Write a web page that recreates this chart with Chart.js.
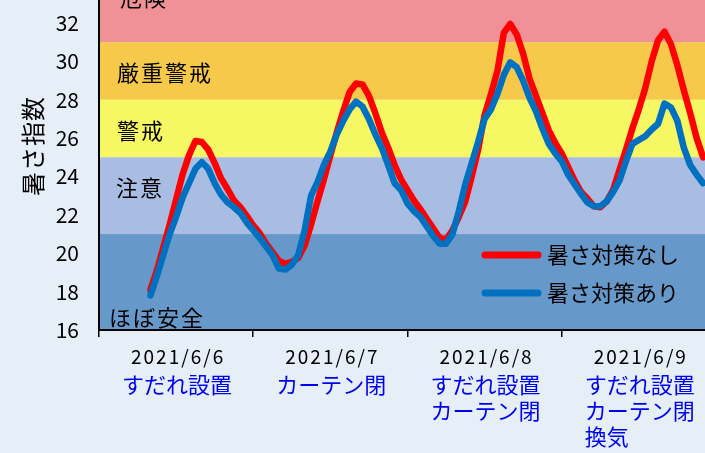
<!DOCTYPE html>
<html>
<head>
<meta charset="utf-8">
<script src="https://cdn.jsdelivr.net/npm/chart.js@4/dist/chart.umd.min.js"></script>
<style>
  html, body { margin: 0; padding: 0; background: #E6EEF7; }
  #wrap { width: 705px; height: 453px; overflow: hidden; }
</style>
</head>
<body>
<div id="wrap"><canvas id="c" width="705" height="453"></canvas></div>
<script>
// ---- data ----
const hours = [8,9,10,11,12,13,14,15,16,17,18,19,20,21,22,23,24,25,26,27,28,29,30,31,32,33,34,35,36,37,38,39,40,41,42,43,44,45,46,47,48,49,50,51,52,53,54,55,56,57,58,59,60,61,62,63,64,65,66,67,68,69,70,71,72,73,74,75,76,77,78,79,80,81,82,83,84,85,86,87,88,89,90,91,92,93,94];
const noMeasures = [18.1,19.1,20.3,21.5,22.8,24.1,25.1,25.85,25.8,25.4,24.7,23.9,23.35,22.75,22.4,21.95,21.45,21.05,20.5,20.05,19.6,19.45,19.55,19.75,20.4,21.5,22.7,23.85,25.1,26.3,27.4,28.4,28.85,28.8,28.2,27.3,26.3,25.5,24.6,23.85,23.3,22.75,22.3,21.8,21.3,20.8,20.7,21.2,21.9,22.7,24.0,25.4,27.2,28.3,29.5,31.5,31.95,31.4,30.4,29.1,28.2,27.3,26.4,25.75,25.2,24.5,23.8,23.2,22.85,22.45,22.4,22.7,23.3,24.35,25.4,26.5,27.5,28.6,30.0,31.1,31.55,30.9,29.8,28.5,27.3,26.0,25.0];
const withMeasures = [17.8,18.8,19.9,21.0,21.9,22.9,23.65,24.4,24.75,24.4,23.65,23.05,22.65,22.4,22.1,21.6,21.2,20.8,20.35,19.9,19.2,19.15,19.4,19.9,21.2,23.0,23.7,24.6,25.3,26.2,26.9,27.5,27.9,27.65,27.0,26.2,25.5,24.6,23.65,23.3,22.6,22.2,21.9,21.4,20.9,20.5,20.5,21.0,22.2,23.6,24.7,25.8,27.0,27.5,28.3,29.3,29.95,29.7,29.0,28.1,27.4,26.5,25.7,25.2,24.8,24.1,23.6,23.1,22.65,22.45,22.45,22.7,23.2,23.8,24.8,25.7,25.9,26.1,26.45,26.75,27.8,27.6,26.9,25.5,24.6,24.1,23.65];
const seriesNames = ['暑さ対策なし', '暑さ対策あり'];
const dayLabels = ['2021/6/6', '2021/6/7', '2021/6/8', '2021/6/9'];
const dayActions = [['すだれ設置'], ['カーテン閉'], ['すだれ設置', 'カーテン閉'], ['すだれ設置', 'カーテン閉', '換気']];
const dayStarts = [0, 24, 48, 72];
const yTicks = [16, 18, 20, 22, 24, 26, 28, 30, 32];
const bandNames = ['危険', '厳重警戒', '警戒', '注意', 'ほぼ安全'];
const bandFrom = [31, 28, 25, 21, 16];
const bandTo = [40, 31, 28, 25, 21];
const yTitle = '暑さ指数';

// ---- styles ----
const FONT = "'Noto Sans CJK JP', 'Noto Sans', sans-serif";
const bandColors = ['#F09097', '#F6C94B', '#F5F763', '#A9BDE3', '#6699CA'];
const bandLabelAt = [33.3, 29.4, 26.4, 23.4, 16.65];
const bandLabelX = [120, 117, 117, 116, 109];
const red = '#FF0000', blue = '#0070C0';

const bgPlugin = {
  id: 'bands',
  beforeDraw(chart) {
    const {ctx, chartArea: a, scales: {y}} = chart;
    ctx.save();
    ctx.beginPath(); ctx.rect(a.left, a.top, a.right - a.left, a.bottom - a.top); ctx.clip();
    bandNames.forEach((n, i) => {
      const t = y.getPixelForValue(bandTo[i]), b = y.getPixelForValue(bandFrom[i]);
      ctx.fillStyle = bandColors[i];
      ctx.fillRect(a.left, t, a.right - a.left, b - t);
    });
    ctx.fillStyle = '#000';
    ctx.font = '22px ' + FONT;
    ctx.textBaseline = 'middle';
    ctx.textAlign = 'left';
    try { ctx.letterSpacing = '2px'; } catch (e) {}
    bandNames.forEach((n, i) => {
      ctx.fillText(n, bandLabelX[i], y.getPixelForValue(bandLabelAt[i]));
    });
    ctx.restore();
  },
  afterDraw(chart) {
    const {ctx, scales: {x, y}} = chart;
    ctx.save();
    ctx.fillStyle = '#000';
    ctx.font = '24px ' + FONT;
    ctx.textAlign = 'center';
    ctx.textBaseline = 'middle';
    ctx.translate(33, 146);
    ctx.rotate(-Math.PI / 2);
    try { ctx.letterSpacing = '1px'; } catch (e) {}
    ctx.fillText(yTitle, 0, 0);
    ctx.restore();

    ctx.save();
    ctx.textAlign = 'center';
    ctx.textBaseline = 'middle';
    dayLabels.forEach((d, i) => {
      const cx = x.getPixelForValue(dayStarts[i] + 12);
      ctx.fillStyle = '#000';
      ctx.font = '19px ' + FONT;
      try { ctx.letterSpacing = '2px'; } catch (e) {}
      ctx.fillText(d, cx + 2, 357);
      ctx.fillStyle = '#0000F0';
      ctx.font = '22px ' + FONT;
      try { ctx.letterSpacing = '0px'; } catch (e) {}
      dayActions[i].forEach((t, j) => {
        if (j === 0 || dayActions[i].length === 1) {
          ctx.fillText(t, cx + 1, 385 + j * 26);
        } else {
          ctx.textAlign = 'left';
          const w0 = ctx.measureText(dayActions[i][0]).width;
          ctx.fillText(t, cx + 1 - w0 / 2, 385 + j * 26);
          ctx.textAlign = 'center';
        }
      });
    });
    ctx.restore();

    ctx.save();
    const ds = chart.data.datasets;
    [0, 1].forEach((k) => {
      const ly = 255 + k * 38;
      ctx.strokeStyle = ds[k].borderColor;
      ctx.lineWidth = 7;
      ctx.lineCap = 'round';
      ctx.beginPath(); ctx.moveTo(485, ly); ctx.lineTo(538, ly); ctx.stroke();
      ctx.fillStyle = '#000';
      ctx.font = '22px ' + FONT;
      ctx.textAlign = 'left';
      ctx.textBaseline = 'middle';
      ctx.fillText(ds[k].label, 547, ly);
    });
    ctx.restore();
  }
};

function noPad(s) { s.paddingTop = 0; s.paddingBottom = 0; s.paddingLeft = 0; s.paddingRight = 0; }

new Chart(document.getElementById('c'), {
  type: 'line',
  data: {
    datasets: [
      { label: seriesNames[0], data: hours.map((h, i) => ({x: h, y: noMeasures[i]})), borderColor: red, backgroundColor: red, borderWidth: 6.5, pointRadius: 0, tension: 0, borderJoinStyle: 'round', borderCapStyle: 'round', order: 1 },
      { label: seriesNames[1], data: hours.map((h, i) => ({x: h, y: withMeasures[i]})), borderColor: blue, backgroundColor: blue, borderWidth: 6.5, pointRadius: 0, tension: 0, borderJoinStyle: 'round', borderCapStyle: 'round', order: 0 }
    ]
  },
  options: {
    responsive: false,
    animation: false,
    devicePixelRatio: 1,
    layout: { padding: 0 },
    plugins: { legend: { display: false }, tooltip: { enabled: false } },
    scales: {
      x: {
        type: 'linear', min: 0, max: 94.3,
        afterBuildTicks: (s) => { s.ticks = dayStarts.map(v => ({value: v})); },
        afterFit: (s) => { s.height = 123; noPad(s); },
        ticks: { callback: () => '', padding: 0 },
        grid: { drawOnChartArea: false, drawTicks: true, tickLength: 7, color: '#000', lineWidth: 1.5 },
        border: { display: true, color: '#000', width: 2 }
      },
      y: {
        min: 16, max: 33.2,
        afterBuildTicks: (s) => { s.ticks = yTicks.map(v => ({value: v})); },
        afterFit: (s) => { s.width = 99; noPad(s); },
        ticks: { color: '#000', font: { size: 21, family: FONT }, padding: 20 },
        grid: { display: false, drawTicks: false },
        border: { display: true, color: '#000', width: 2 }
      }
    }
  },
  plugins: [bgPlugin]
});
</script>
</body>
</html>
